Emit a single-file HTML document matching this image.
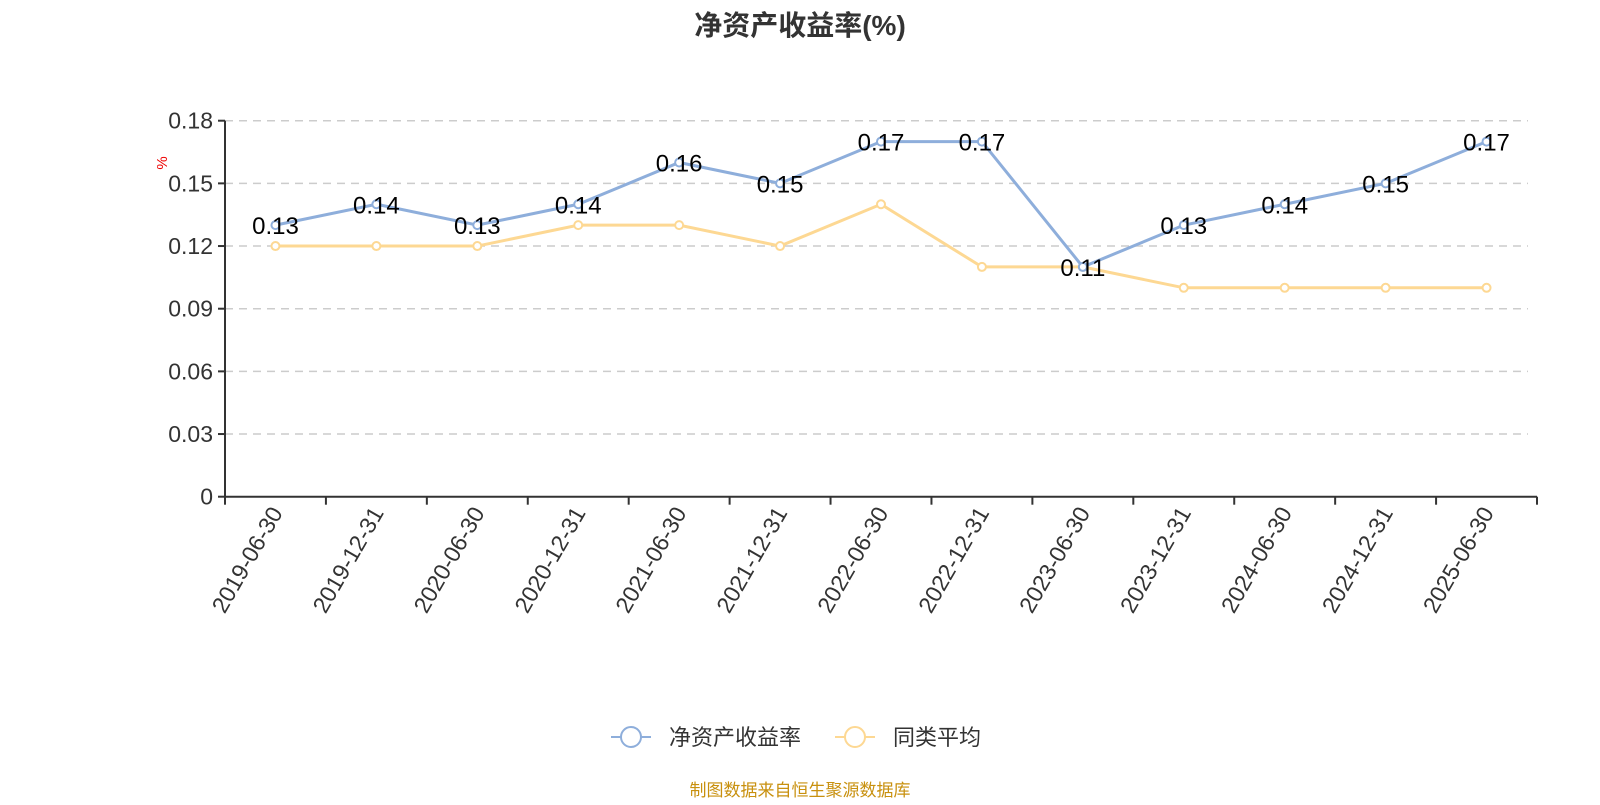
<!DOCTYPE html>
<html><head><meta charset="utf-8"><style>
body{margin:0;background:#fff;width:1600px;height:800px;overflow:hidden}
svg text{font-family:"Liberation Sans","Noto Sans CJK SC",sans-serif}
</style></head><body>
<svg id="chart" width="1600" height="800">
<text x="800" y="35" text-anchor="middle" font-size="28" font-weight="bold" fill="#333">净资产收益率(%)</text>
<text x="167" y="163" font-size="15" fill="#e00" transform="rotate(-90 167 163)" text-anchor="middle">%</text>
<g id="grid"></g><g id="axes"></g><g id="series"></g>
<g>
<g>
<line x1="611" y1="737" x2="651" y2="737" stroke="#8eaedb" stroke-width="2"/>
<circle cx="631" cy="737" r="10" fill="#fff" stroke="#8eaedb" stroke-width="2"/>
<text x="669" y="745" font-size="22" fill="#333">净资产收益率</text></g>
<g>
<line x1="835" y1="737" x2="875" y2="737" stroke="#fdd893" stroke-width="2"/>
<circle cx="855" cy="737" r="10" fill="#fff" stroke="#fdd893" stroke-width="2"/>
<text x="893" y="745" font-size="22" fill="#333">同类平均</text></g>
</g>
<text x="800" y="796" text-anchor="middle" font-size="17" fill="#c8900e">制图数据来自恒生聚源数据库</text>
</svg>
<script>
const categories=["2019-06-30","2019-12-31","2020-06-30","2020-12-31","2021-06-30","2021-12-31","2022-06-30","2022-12-31","2023-06-30","2023-12-31","2024-06-30","2024-12-31","2025-06-30"];
const roeValues=[0.13,0.14,0.13,0.14,0.16,0.15,0.17,0.17,0.11,0.13,0.14,0.15,0.17];
const avgValues=[0.12,0.12,0.12,0.13,0.13,0.12,0.14,0.11,0.11,0.10,0.10,0.10,0.10];
const yTicks=[0,0.03,0.06,0.09,0.12,0.15,0.18];
const yTickLabels=["0","0.03","0.06","0.09","0.12","0.15","0.18"];
const NS="http://www.w3.org/2000/svg";
const L=225,R=1537,T=120.7,B=496.7,YMAX=0.18;
const bw=(R-L)/categories.length;
const xs=i=>L+bw*(i+0.5);
const ys=v=>B-(v/YMAX)*(B-T);
function mk(tag,a,p){const e=document.createElementNS(NS,tag);for(const k in a)e.setAttribute(k,a[k]);p.appendChild(e);return e;}
const grid=document.getElementById('grid'),axes=document.getElementById('axes'),ser=document.getElementById('series');
yTicks.forEach((t,i)=>{const y=ys(t);
 if(t>0){const g=mk('line',{x1:L,x2:1528,y1:y,y2:y,stroke:'#ccc','stroke-width':1.5,'stroke-dasharray':'8,6'},grid);
 
 }
 const tk=mk('line',{x1:L-7,x2:L,y1:y,y2:y,stroke:'#333','stroke-width':2},axes);
 
 
 const tx=mk('text',{x:L-12,y:y+8,'text-anchor':'end','font-size':23,fill:'#333'},axes);tx.textContent=yTickLabels[i];
 
 
});
const ya=mk('line',{x1:L,x2:L,y1:T,y2:B,stroke:'#333','stroke-width':2},axes);


const xa=mk('line',{x1:L-1,x2:R,y1:B,y2:B,stroke:'#333','stroke-width':2},axes);


for(let i=0;i<=categories.length;i++){const x=L+bw*i;
 const tk=mk('line',{x1:x,x2:x,y1:B,y2:B+8,stroke:'#333','stroke-width':2},axes);
 
 }
categories.forEach((c,i)=>{const x=xs(i)+8,y=B+16;
 const t=mk('text',{x:x,y:y,'text-anchor':'end','font-size':23,fill:'#333',transform:`rotate(-60 ${x} ${y})`},axes);t.textContent=c;
 
 });
function series(vals,color,name,labels){
 const pl=mk('polyline',{points:vals.map((v,i)=>xs(i)+','+ys(v)).join(' '),fill:'none',stroke:color,'stroke-width':3},ser);
 
 
 vals.forEach((v,i)=>{const c=mk('circle',{cx:xs(i),cy:ys(v),r:4,fill:'#fff',stroke:color,'stroke-width':2},ser);
  
  
  if(labels){const t=mk('text',{x:xs(i),y:ys(v)+9,'text-anchor':'middle','font-size':24,fill:'#000'},ser);t.textContent=v.toFixed(2);
   
   }
 });
}
series(avgValues,'#fdd893','peer-average',false);
series(roeValues,'#8eaedb','roe',true);
</script>
</body></html>
